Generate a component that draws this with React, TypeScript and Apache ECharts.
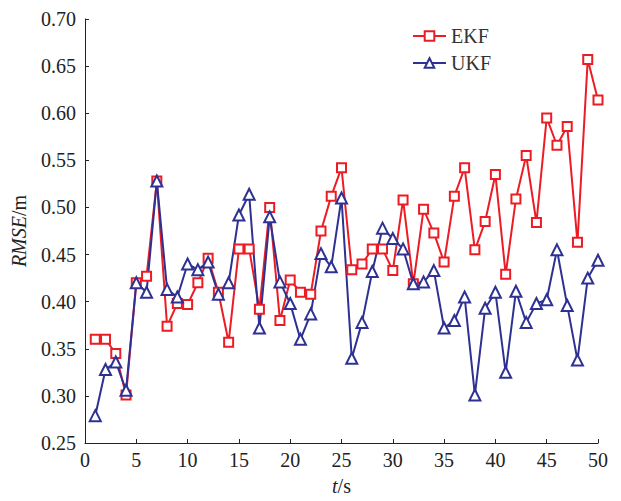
import React, { useEffect, useRef } from "react";
import * as echarts from "echarts";

const tValues = Array.from({ length: 50 }, (_, i) => i + 1);

const ekf = [
  0.36, 0.36, 0.345, 0.301, 0.42, 0.427, 0.528, 0.374, 0.398, 0.397,
  0.42, 0.446, 0.41, 0.357, 0.456, 0.456, 0.392, 0.5, 0.38, 0.423,
  0.41, 0.408, 0.475, 0.512, 0.542, 0.434, 0.44, 0.456, 0.456, 0.433,
  0.508, 0.419, 0.498, 0.473, 0.442, 0.512, 0.542, 0.455, 0.485, 0.535,
  0.429, 0.509, 0.555, 0.484, 0.595, 0.566, 0.586, 0.463, 0.657, 0.614,
];

const ukf = [
  0.279, 0.328, 0.336, 0.306, 0.42, 0.41, 0.528, 0.413, 0.405, 0.44,
  0.434, 0.442, 0.408, 0.42, 0.492, 0.514, 0.372, 0.49, 0.421, 0.398,
  0.36, 0.387, 0.451, 0.437, 0.51, 0.34, 0.378, 0.432, 0.478, 0.467,
  0.456, 0.419, 0.421, 0.433, 0.372, 0.38, 0.405, 0.301, 0.393, 0.41,
  0.325, 0.411, 0.378, 0.398, 0.402, 0.455, 0.396, 0.338, 0.425, 0.444,
];

const seriesNames = ["EKF", "UKF"];

const FONT = "Liberation Serif";
const FS = 20;

export default function App() {
  const ref = useRef<HTMLDivElement>(null);
  useEffect(() => {
    document.body.style.margin = "0";
    if (!ref.current) return;
    const chart = echarts.init(ref.current, undefined, { renderer: "svg" });
    const axisColor = "#222";
    chart.setOption({
      animation: false,
      backgroundColor: "#fff",
      textStyle: { fontFamily: FONT },
      grid: { left: 85, right: 23, top: 19, bottom: 46, containLabel: false },
      legend: {
        orient: "vertical",
        left: 407,
        top: 21,
        itemWidth: 33,
        itemHeight: 12,
        itemGap: 7,
        textStyle: { fontFamily: FONT, fontSize: FS, color: "#333" },
        data: seriesNames,
      },
      xAxis: {
        type: "value",
        min: 0,
        max: 50,
        interval: 5,
        name: "{i|t}/s",
        nameLocation: "middle",
        nameGap: 33,
        nameTextStyle: {
          fontFamily: FONT,
          fontSize: FS,
          color: "#222",
          rich: { i: { fontStyle: "italic", fontFamily: FONT, fontSize: FS, color: "#222" } },
        },
        axisLine: { show: true, lineStyle: { color: axisColor, width: 1 } },
        axisTick: { show: true, inside: true, length: 4, lineStyle: { color: axisColor } },
        axisLabel: { fontFamily: FONT, fontSize: FS, color: "#222", margin: 7 },
        splitLine: { show: false },
      },
      yAxis: {
        type: "value",
        min: 0.25,
        max: 0.7,
        interval: 0.05,
        name: "{i|RMSE}/m",
        nameLocation: "middle",
        nameGap: 56,
        nameRotate: 90,
        nameTextStyle: {
          fontFamily: FONT,
          fontSize: FS,
          color: "#222",
          rich: { i: { fontStyle: "italic", fontFamily: FONT, fontSize: FS, color: "#222" } },
        },
        axisLine: { show: true, lineStyle: { color: axisColor, width: 1 } },
        axisTick: { show: true, inside: true, length: 4, lineStyle: { color: axisColor } },
        axisLabel: {
          fontFamily: FONT,
          fontSize: FS,
          color: "#222",
          margin: 9,
          formatter: (v: number) => v.toFixed(2),
        },
        splitLine: { show: false },
      },
      series: [
        {
          name: seriesNames[0],
          type: "line",
          data: tValues.map((t, i) => [t, ekf[i]]),
          symbol: "emptyRect",
          symbolSize: 9,
          showAllSymbol: true,
          lineStyle: { color: "#ec1c24", width: 2 },
          itemStyle: { color: "#ec1c24", borderColor: "#ec1c24", borderWidth: 1.6 },
        },
        {
          name: seriesNames[1],
          type: "line",
          data: tValues.map((t, i) => [t, ukf[i]]),
          symbol: "emptyTriangle",
          symbolSize: 11,
          showAllSymbol: true,
          lineStyle: { color: "#2e3192", width: 2 },
          itemStyle: { color: "#2e3192", borderColor: "#2e3192", borderWidth: 1.6 },
        },
      ],
    });
    return () => chart.dispose();
  }, []);
  return <div ref={ref} style={{ width: 621, height: 501 }} />;
}
